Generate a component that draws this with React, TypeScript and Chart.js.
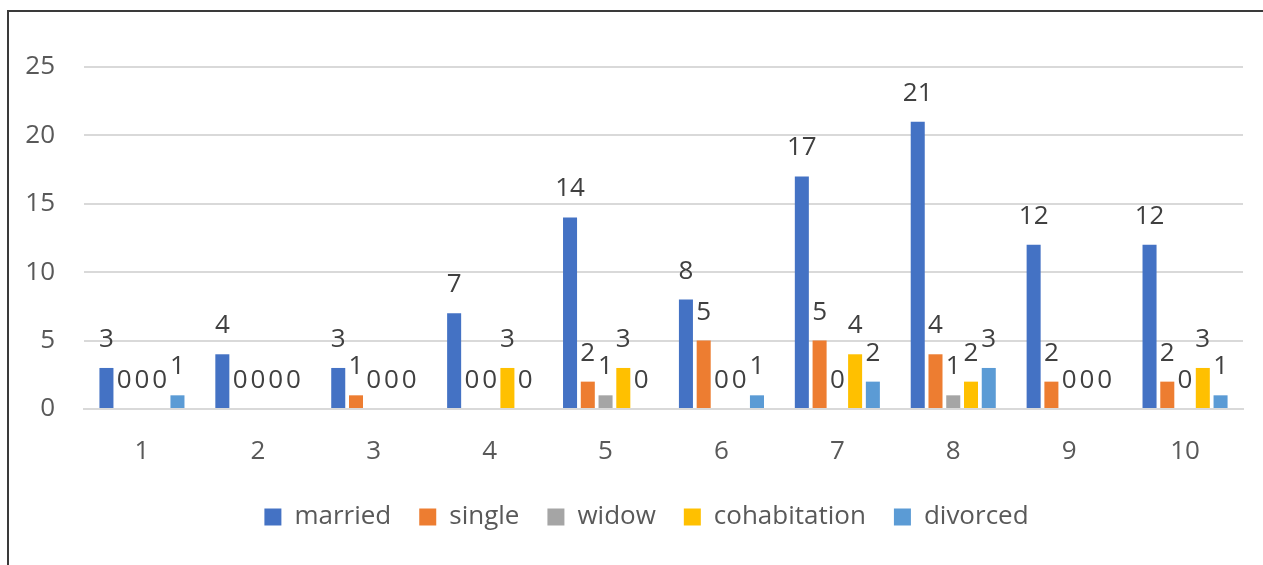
import React, { useEffect, useRef } from "react";
import { Chart, registerables } from "chart.js";

Chart.register(...registerables);

const categories = ["1", "2", "3", "4", "5", "6", "7", "8", "9", "10"];
const married = [3, 4, 3, 7, 14, 8, 17, 21, 12, 12];
const single = [0, 0, 1, 0, 2, 5, 5, 4, 2, 2];
const widow = [0, 0, 0, 0, 1, 0, 0, 1, 0, 0];
const cohabitation = [0, 0, 0, 3, 3, 0, 4, 2, 0, 3];
const divorced = [1, 0, 0, 0, 0, 1, 2, 3, 0, 1];
const seriesNames = ["married", "single", "widow", "cohabitation", "divorced"];
const seriesColors = ["#4472C4", "#ED7D31", "#A5A5A5", "#FFC000", "#5B9BD5"];
const yMax = 25;
const yStep = 5;

const FONT = '"Open Sans", "Liberation Sans", sans-serif';

const barLabels = {
  id: "barLabels",
  afterDatasetsDraw(chart: any) {
    const ctx = chart.ctx;
    ctx.save();
    ctx.font = `26px ${FONT}`;
    ctx.fillStyle = "#404040";
    ctx.textAlign = "center";
    ctx.textBaseline = "alphabetic";
    chart.data.datasets.forEach((ds: any, i: number) => {
      const meta = chart.getDatasetMeta(i);
      meta.data.forEach((bar: any, j: number) => {
        ctx.fillText(String(ds.data[j]), bar.x, bar.y - 21);
      });
    });
    ctx.restore();
  },
};

// Shift the legend's box so it is centred slightly right of the canvas centre
const legendShift = {
  id: "legendShift",
  afterLayout(chart: any) {
    if (chart.legend) {
      chart.legend.left = 50;
    }
  },
};

export default function App() {
  const ref = useRef<HTMLCanvasElement | null>(null);

  useEffect(() => {
    if (!ref.current) return;
    const all = [married, single, widow, cohabitation, divorced];
    const chart = new Chart(ref.current, {
      type: "bar",
      data: {
        labels: categories,
        datasets: all.map((d, i) => ({
          label: seriesNames[i],
          data: d,
          backgroundColor: seriesColors[i],
          borderWidth: 0,
          categoryPercentage: 0.766,
          barPercentage: 0.79,
        })),
      },
      options: {
        responsive: true,
        maintainAspectRatio: false,
        animation: false,
        layout: { padding: { left: 0, right: 20, top: 67, bottom: 25 } },
        plugins: {
          legend: {
            position: "bottom",
            labels: {
              font: { family: FONT, size: 26 },
              color: "#595959",
              boxWidth: 17,
              boxHeight: 17,
              padding: 28,
            },
          },
          tooltip: { enabled: false },
        },
        scales: {
          x: {
            grid: { display: false },
            border: { display: true, color: "#d9d9d9", width: 2 },
            ticks: {
              font: { family: FONT, size: 26 },
              color: "#595959",
              padding: 19,
            },
            afterFit(scale: any) {
              scale.height = 67;
            },
          },
          y: {
            min: 0,
            max: yMax,
            ticks: {
              stepSize: yStep,
              font: { family: FONT, size: 26 },
              color: "#595959",
              padding: 29,
            },
            grid: { color: "#d9d9d9", lineWidth: 2, drawTicks: false },
            border: { display: false },
            afterFit(scale: any) {
              scale.width = 84;
            },
          },
        },
      },
      plugins: [barLabels, legendShift],
    });
    return () => chart.destroy();
  }, []);

  return (
    <div style={{ position: "fixed", left: 0, top: 0, width: 1263, height: 565, background: "#fff" }}>
      <div
        style={{
          position: "absolute",
          left: 7,
          top: 10,
          right: 0,
          bottom: -4,
          borderLeft: "2px solid #3a3a3a",
          borderTop: "2px solid #3a3a3a",
        }}
      />
      <div style={{ position: "absolute", left: 0, top: 0, width: 1263, height: 565 }}>
        <canvas ref={ref} />
      </div>
    </div>
  );
}
